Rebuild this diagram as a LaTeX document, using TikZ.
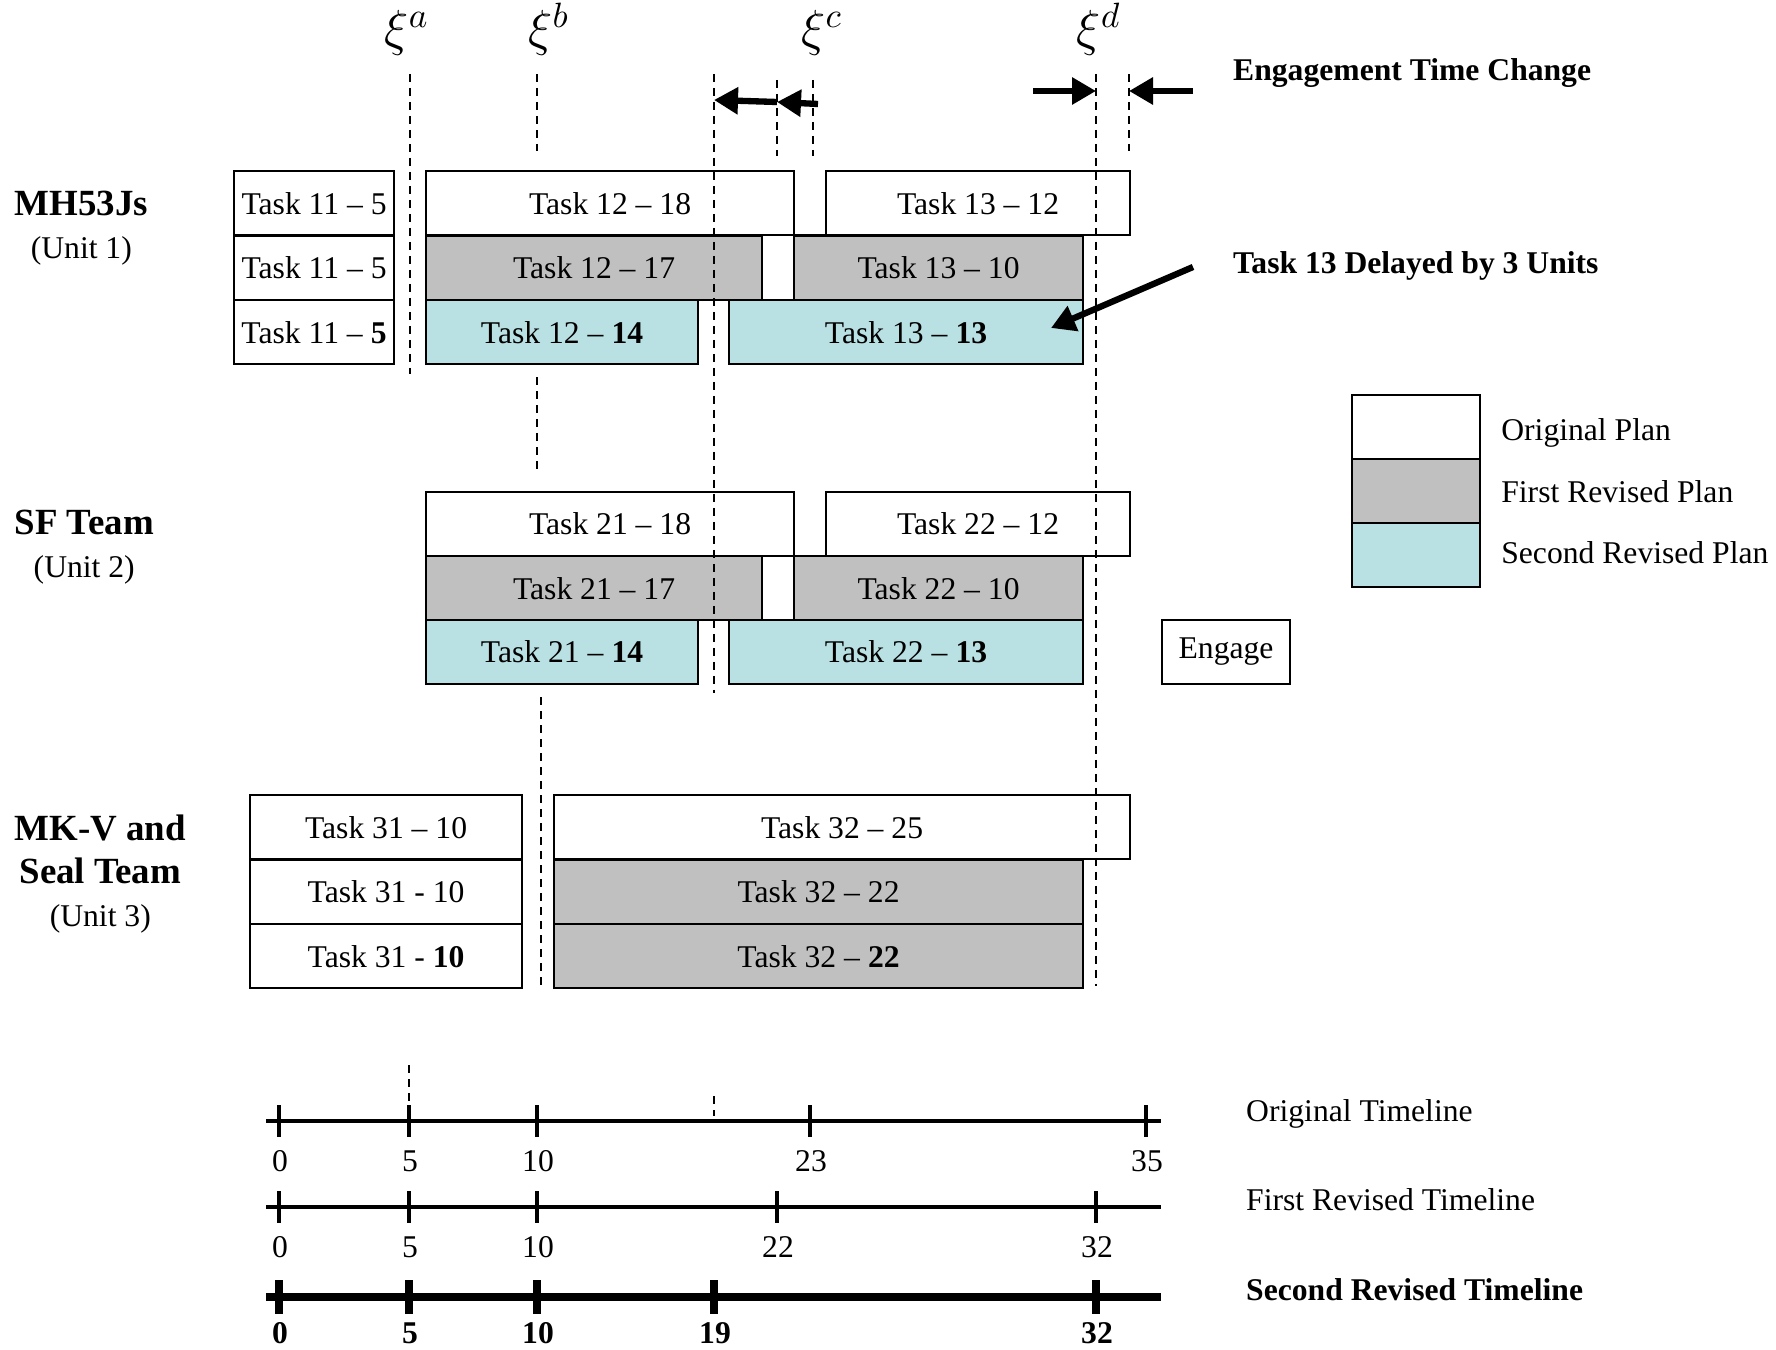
\documentclass[tikz,border=0pt]{standalone}
\usepackage{fontspec}
\setmainfont{Liberation Serif}
\usepackage{tikz}
\usetikzlibrary{positioning,arrows.meta}
\definecolor{ink}{HTML}{000000}
\definecolor{planGray}{HTML}{C0C0C0}
\definecolor{planCyan}{HTML}{B9E0E3}
\tikzset{
  task/.style={draw=ink, line width=0.6pt, inner sep=0pt, anchor=north west, minimum height=6.43mm, font=\fontsize{9}{10}\selectfont, text=ink},
  orig/.style={task, fill=white},
  rev1/.style={task, fill=planGray},
  rev2/.style={task, fill=planCyan},
  unitlbl/.style={anchor=west, align=center, inner sep=0pt, font=\fontsize{10.5}{12.3}\selectfont\bfseries, text=ink},
  lbl/.style={inner sep=1pt, font=\fontsize{9}{10}\selectfont, text=ink},
  note/.style={lbl, anchor=west, font=\fontsize{9}{10}\selectfont\bfseries},
  xilbl/.style={anchor=base, font=\fontsize{14}{16}\selectfont, text=ink},
  guide/.style={dash pattern=on 0.8mm off 0.6mm, line width=0.4pt, ink},
  bigarrow/.style={-{Triangle[length=2.4mm, width=2.6mm]}, line width=1.8pt, ink},
}
\newcommand{\sub}[1]{{\mdseries\fontsize{9}{12}\selectfont #1}}

\begin{document}
\begin{tikzpicture}[x=0.1mm, y=-0.1mm]
\useasboundingbox (0,0) rectangle (1776,1350);
% units
\node[unitlbl] (u1) at (14,228) {MH53Js\\\sub{(Unit 1)}};
\node[unitlbl] (u2) at (14,547) {SF Team\\\sub{(Unit 2)}};
\node[unitlbl] (u3) at (14,874) {MK-V and\\Seal Team\\\sub{(Unit 3)}};
% unit 1
\node[orig, minimum width=16mm] (t11a) at (233,170) {Task 11 -- 5};
\node[orig, minimum width=16mm] (t11b) at (233,234.5) {Task 11 -- 5};
\node[orig, minimum width=16mm] (t11c) at (233,299) {Task 11 -- \textbf{5}};
\node[orig, minimum width=36.8mm] (t12a) at (425,170) {Task 12 -- 18};
\node[orig, minimum width=30.4mm] (t13a) at (825,170) {Task 13 -- 12};
\node[rev1, minimum width=33.6mm] (t12b) at (425,234.5) {Task 12 -- 17};
\node[rev1, minimum width=28.9mm] (t13b) at (793,234.5) {Task 13 -- 10};
\node[rev2, minimum width=27.2mm] (t12c) at (425,299) {Task 12 -- \textbf{14}};
\node[rev2, minimum width=35.4mm] (t13c) at (728,299) {Task 13 -- \textbf{13}};
% unit 2
\node[orig, minimum width=36.8mm] (t21a) at (425,490.5) {Task 21 -- 18};
\node[orig, minimum width=30.4mm] (t22a) at (825,490.5) {Task 22 -- 12};
\node[rev1, minimum width=33.6mm] (t21b) at (425,555) {Task 21 -- 17};
\node[rev1, minimum width=28.9mm] (t22b) at (793,555) {Task 22 -- 10};
\node[rev2, minimum width=27.2mm] (t21c) at (425,618.5) {Task 21 -- \textbf{14}};
\node[rev2, minimum width=35.4mm] (t22c) at (728,618.5) {Task 22 -- \textbf{13}};
\node[orig, minimum width=12.8mm] (eng) at (1161,618.5) {Engage};
% unit 3
\node[orig, minimum width=27.2mm] (t31a) at (249,794) {Task 31 -- 10};
\node[orig, minimum width=27.2mm] (t31b) at (249,858.5) {Task 31 - 10};
\node[orig, minimum width=27.2mm] (t31c) at (249,923) {Task 31 - \textbf{10}};
\node[orig, minimum width=57.6mm] (t32a) at (553,794) {Task 32 -- 25};
\node[rev1, minimum width=52.9mm] (t32b) at (553,858.5) {Task 32 -- 22};
\node[rev1, minimum width=52.9mm] (t32c) at (553,923) {Task 32 -- \textbf{22}};
% legend
\node[orig, minimum width=12.8mm] (lg1) at (1351,394) {};
\node[rev1, minimum width=12.8mm] (lg2) at (1351,458) {};
\node[rev2, minimum width=12.8mm] (lg3) at (1351,522) {};
\node[lbl, right=1.6mm of lg1, yshift=-0.6mm] (lgo) {Original Plan};
\node[lbl, right=1.6mm of lg2] (lgf) {First Revised Plan};
\node[lbl, right=1.6mm of lg3, yshift=0.3mm] (lgs) {Second Revised Plan};
% decision points
\node[xilbl] (xa) at (407,46) {$\xi^a$};
\node[xilbl] (xb) at (549,46) {$\xi^b$};
\node[xilbl] (xc) at (822,46) {$\xi^c$};
\node[xilbl] (xd) at (1099,46) {$\xi^d$};
\foreach \x/\a/\b in {410/74/374, 537/74/151, 537/377/470, 541/697/986, 714/74/693,
  777/80/156, 813/80/156, 1096/74/986, 1129/74/151, 409/1065/1116, 714/1096/1116}
  \draw[guide] (\x,\a) -- (\x,\b);
% arrows
\coordinate (ecR) at (818,104);
\coordinate (ecM) at (777,102);
\coordinate (ecL) at (714,100);
\draw[bigarrow] (ecR) -- (ecM);
\draw[bigarrow] (ecM) -- (ecL);
\coordinate (enA) at (1033,91);
\coordinate (enB) at (1096,91);
\coordinate (exA) at (1193,91);
\coordinate (exB) at (1129,91);
\draw[bigarrow] (enA) -- (enB);
\draw[bigarrow] (exA) -- (exB);
\node[note] (etc) at (1229,73) {Engagement Time Change};
\node[note] (dly) at (1229,266) {Task 13 Delayed by 3 Units};
\coordinate (dlTail) at (1193,267);
\coordinate (dlTip) at (1051,328);
\draw[bigarrow] (dlTail) -- (dlTip);
% timelines
\draw[line width=0.9pt] (266,1121) -- (1161,1121);
\foreach \x/\t in {279/0, 409/5, 537/10, 810/23, 1146/35} {
  \draw[line width=0.9pt] (\x,1105) -- (\x,1137);
  \node[lbl] (to\t) at (\x+1,1161) {\t};
}
\draw[line width=0.9pt] (266,1207) -- (1161,1207);
\foreach \x/\t in {279/0, 409/5, 537/10, 777/22, 1096/32} {
  \draw[line width=0.9pt] (\x,1191) -- (\x,1223);
  \node[lbl] (tf\t) at (\x+1,1247) {\t};
}
\draw[line width=2.2pt] (266,1297) -- (1161,1297);
\foreach \x/\t in {279/0, 409/5, 537/10, 714/19, 1096/32} {
  \draw[line width=2.2pt] (\x,1280) -- (\x,1314);
  \node[lbl, font=\fontsize{9}{10}\selectfont\bfseries] (ts\t) at (\x+1,1333) {\t};
}
\node[lbl, anchor=west] (tlo) at (1242,1114) {Original Timeline};
\node[lbl, anchor=west] (tlf) at (1242,1200) {First Revised Timeline};
\node[note] (tls) at (1242,1290) {Second Revised Timeline};
\end{tikzpicture}
\end{document}
